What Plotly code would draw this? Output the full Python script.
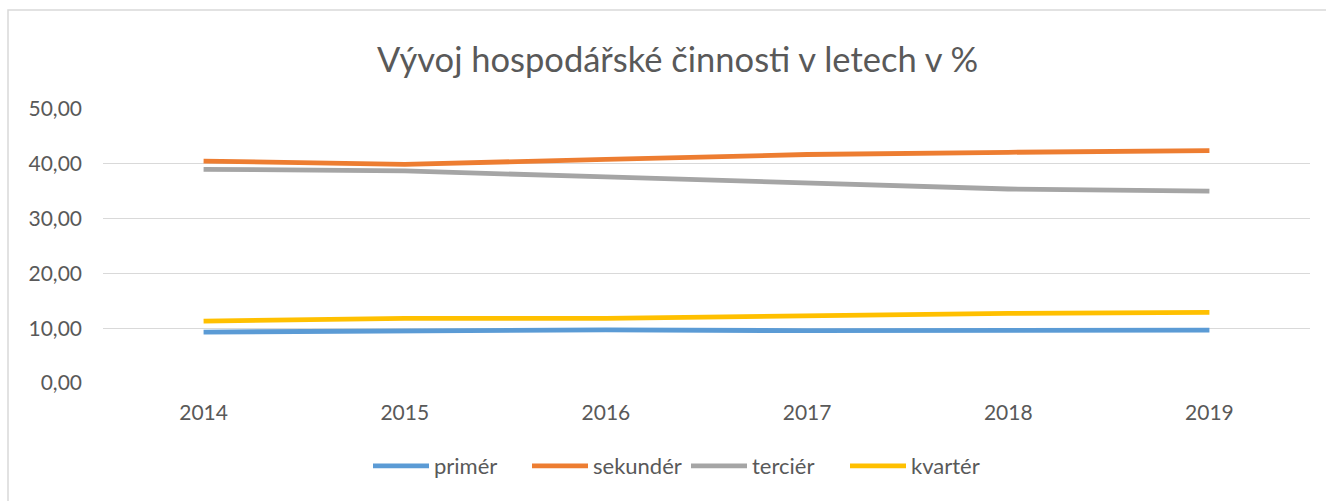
import plotly.graph_objects as go

years = ["2014", "2015", "2016", "2017", "2018", "2019"]
primer = [9.3, 9.6, 9.7, 9.55, 9.6, 9.65]
sekunder = [40.5, 39.9, 40.8, 41.7, 42.1, 42.4]
tercier = [39.0, 38.7, 37.6, 36.5, 35.4, 35.0]
kvarter = [11.3, 11.8, 11.8, 12.3, 12.7, 12.9]

series = [
    ("primér", primer, "#5B9BD5"),
    ("sekundér", sekunder, "#ED7D31"),
    ("terciér", tercier, "#A5A5A5"),
    ("kvartér", kvarter, "#FFC000"),
]

FONT = "Lato"
W, H = 1326, 501
L, R, T, B = 103, 16, 109, 118
pw = W - L - R
ph = H - T - B

fig = go.Figure()
for name, vals, col in series:
    fig.add_trace(go.Scatter(x=years, y=vals, name=name, mode="lines",
                             line=dict(color=col, width=4.8)))

fig.update_layout(
    width=W, height=H,
    margin=dict(l=L, r=R, t=T, b=B),
    paper_bgcolor="white", plot_bgcolor="white",
    separators=", ",
    title=dict(text="Vývoj hospodářské činnosti v letech v %",
               font=dict(family=FONT, size=34.5, color="#595959"),
               xref="container", x=677.5 / W, xanchor="center",
               yref="container", y=1 - 60 / H, yanchor="middle"),
    font=dict(family=FONT, size=17, color="#595959"),
    showlegend=True,
    legend=dict(orientation="h", x=(373 - 5 - L) / pw, xanchor="left",
                y=(383 - 466) / ph, yanchor="middle",
                font=dict(family=FONT, size=22, color="#595959"),
                itemwidth=56, entrywidth=88, entrywidthmode="pixels",
                tracegroupgap=0),
    xaxis=dict(type="category", range=[-0.5, 5.5], showgrid=False,
               showline=False, ticks="", ticklabelstandoff=15,
               tickfont=dict(size=21, color="#595959")),
    yaxis=dict(range=[0, 50], dtick=10, tickformat=".2f", showgrid=True,
               gridcolor="#D9D9D9", gridwidth=1.3, zeroline=False,
               showline=False, ticks="", ticklen=0, ticklabelstandoff=20,
               tickfont=dict(size=21, color="#595959")),
)

fig.add_shape(type="rect", xref="paper", yref="paper",
              x0=(8 - L) / pw, x1=(1340 - L) / pw,
              y0=(383 - 520) / ph, y1=(383 - 10) / ph,
              line=dict(color="#D9D9D9", width=1.5), fillcolor="rgba(0,0,0,0)",
              layer="below")

fig.write_html("out.html", config={"displayModeBar": False},
               post_script="document.body.style.margin='0';document.body.style.padding='0';")
